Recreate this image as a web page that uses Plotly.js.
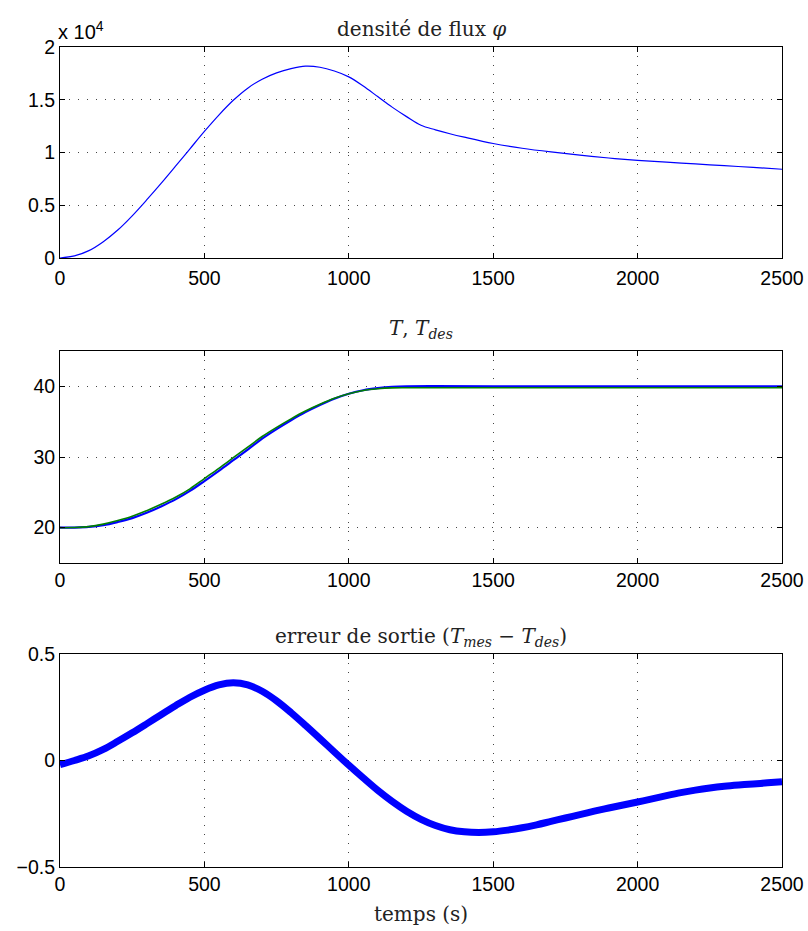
<!DOCTYPE html>
<html>
<head>
<meta charset="utf-8">
<script src="https://cdn.plot.ly/plotly-3.0.1.min.js"></script>
<style>html,body{margin:0;padding:0;background:#fff;}#chart{width:808px;height:931px;}</style>
</head>
<body>
<div id="chart"></div>
<script>
// ---- Data ----
const fluxTime = [0, 50, 100, 150, 200, 250, 300, 350, 400, 450, 500, 550, 600, 650, 700, 750, 800, 850, 900, 950, 1000, 1050, 1100, 1150, 1200, 1250, 1300, 1350, 1400, 1500, 1600, 1700, 1800, 1900, 2000, 2100, 2200, 2300, 2400, 2500];
const fluxValue = [0, 200, 700, 1550, 2650, 4000, 5500, 7070, 8700, 10350, 12000, 13550, 14950, 16100, 16950, 17550, 17950, 18180, 18080, 17720, 17170, 16300, 15300, 14300, 13400, 12580, 12150, 11780, 11450, 10850, 10400, 10050, 9750, 9480, 9260, 9080, 8920, 8750, 8590, 8410];

const tempTime = [0, 50, 100, 150, 200, 250, 300, 350, 400, 450, 500, 550, 600, 650, 700, 750, 800, 850, 900, 950, 1000, 1050, 1100, 1150, 1200, 1300, 1500, 2000, 2500];
const tempMeasured = [20.0, 20.01, 20.1, 20.35, 20.8, 21.35, 22.1, 23.0, 24.0, 25.2, 26.6, 28.05, 29.55, 31.05, 32.6, 33.95, 35.2, 36.35, 37.35, 38.25, 38.95, 39.45, 39.75, 39.93, 40.0, 40.02, 40.0, 40.0, 40.0];
const tempDesired = [20.0, 20.02, 20.15, 20.5, 21.0, 21.6, 22.4, 23.3, 24.3, 25.5, 26.95, 28.4, 29.9, 31.4, 32.9, 34.2, 35.4, 36.5, 37.45, 38.3, 38.95, 39.4, 39.65, 39.78, 39.8, 39.8, 39.8, 39.8, 39.8];

const errTime = [0, 50, 100, 150, 200, 250, 300, 350, 400, 450, 500, 550, 600, 650, 700, 750, 800, 850, 900, 950, 1000, 1050, 1100, 1150, 1200, 1250, 1300, 1350, 1400, 1450, 1500, 1550, 1600, 1650, 1700, 1750, 1800, 1850, 1900, 1950, 2000, 2050, 2100, 2150, 2200, 2250, 2300, 2350, 2400, 2450, 2500];
const errValue = [-0.02, 0.0, 0.022, 0.052, 0.09, 0.13, 0.172, 0.215, 0.257, 0.297, 0.33, 0.355, 0.365, 0.355, 0.325, 0.28, 0.225, 0.165, 0.103, 0.04, -0.022, -0.082, -0.14, -0.192, -0.238, -0.276, -0.305, -0.325, -0.335, -0.338, -0.335, -0.327, -0.316, -0.302, -0.286, -0.27, -0.254, -0.238, -0.223, -0.209, -0.195, -0.18, -0.165, -0.151, -0.139, -0.129, -0.121, -0.115, -0.11, -0.105, -0.1];

const xTickVals = [0, 500, 1000, 1500, 2000, 2500];
const xTickText = ['0', '500', '1000', '1500', '2000', '2500'];
const fluxTickVals = [0, 5000, 10000, 15000, 20000];
const fluxTickText = ['0', '0.5', '1', '1.5', '2'];
const tempTickVals = [20, 30, 40];
const tempTickText = ['20', '30', '40'];
const errTickVals = [-0.5, 0, 0.5];
const errTickText = ['\u22120.5', '0', '0.5'];

const titles = {
  flux: 'densité de flux <i>φ</i>',
  temp: '<i>T</i>, <i>T<sub>des</sub></i>',
  err: 'erreur de sortie (<i>T<sub>mes</sub></i> − <i>T<sub>des</sub></i>)',
  xlab: 'temps (s)',
  exp: 'x 10<sup>4</sup>'
};

// ---- Figure ----
const H = 931;
const py = v => 1 - v / H;
const tickFont = {family: 'Liberation Sans, Arial, Helvetica, sans-serif', size: 19.5, color: '#000'};
const serif = {family: 'DejaVu Serif, serif', size: 20, color: '#222'};

function axisBase(extra) {
  return Object.assign({
    showline: true, linecolor: '#000', linewidth: 1, mirror: 'ticks',
    ticks: 'inside', ticklen: 5, tickcolor: '#000', tickwidth: 1,
    showgrid: true, gridcolor: '#444', gridwidth: 1, griddash: '1px,8px',
    zeroline: false, tickfont: tickFont, fixedrange: true
  }, extra);
}

const traces = [
  {x: fluxTime, y: fluxValue, type: 'scatter', mode: 'lines', line: {color: '#0000ff', width: 1.2, shape: 'spline', smoothing: 1}, xaxis: 'x', yaxis: 'y'},
  {x: tempTime, y: tempMeasured, type: 'scatter', mode: 'lines', line: {color: '#0000ff', width: 2.2, shape: 'spline', smoothing: 1}, xaxis: 'x2', yaxis: 'y2'},
  {x: tempTime, y: tempDesired, type: 'scatter', mode: 'lines', line: {color: '#008000', width: 1.6, shape: 'spline', smoothing: 1}, xaxis: 'x2', yaxis: 'y2'},
  {x: errTime, y: errValue, type: 'scatter', mode: 'lines', line: {color: '#0000ff', width: 7, shape: 'spline', smoothing: 1}, xaxis: 'x3', yaxis: 'y3'}
];

const layout = {
  width: 808, height: 931,
  margin: {l: 60, r: 26, t: 0, b: 0},
  paper_bgcolor: '#fff', plot_bgcolor: '#fff',
  showlegend: false,
  xaxis: axisBase({domain: [0, 1], range: [0, 2500], tickvals: xTickVals, ticktext: xTickText, anchor: 'y', ticklabelstandoff: 3}),
  yaxis: axisBase({domain: [py(258), py(47)], range: [0, 20000], tickvals: fluxTickVals, ticktext: fluxTickText, anchor: 'x'}),
  xaxis2: axisBase({domain: [0, 1], range: [0, 2500], tickvals: xTickVals, ticktext: xTickText, anchor: 'y2'}),
  yaxis2: axisBase({domain: [py(563), py(351)], range: [15, 45], tickvals: tempTickVals, ticktext: tempTickText, anchor: 'x2'}),
  xaxis3: axisBase({domain: [0, 1], range: [0, 2500], tickvals: xTickVals, ticktext: xTickText, anchor: 'y3'}),
  yaxis3: axisBase({domain: [py(867), py(654)], range: [-0.5, 0.5], tickvals: errTickVals, ticktext: errTickText, anchor: 'x3'}),
  annotations: [
    {text: titles.flux, xref: 'paper', yref: 'paper', x: 0.5, y: py(29), xanchor: 'center', yanchor: 'middle', showarrow: false, font: serif},
    {text: titles.temp, xref: 'paper', yref: 'paper', x: 0.5, y: py(329), xanchor: 'center', yanchor: 'middle', showarrow: false, font: serif},
    {text: titles.err, xref: 'paper', yref: 'paper', x: 0.5, y: py(637), xanchor: 'center', yanchor: 'middle', showarrow: false, font: serif},
    {text: titles.xlab, xref: 'paper', yref: 'paper', x: 0.5, y: py(914), xanchor: 'center', yanchor: 'middle', showarrow: false, font: serif},
    {text: titles.exp, xref: 'paper', yref: 'paper', x: 0, y: py(30), xanchor: 'left', yanchor: 'middle', showarrow: false, font: {family: tickFont.family, size: 20, color: '#000'}, xshift: -4}
  ]
};

Plotly.newPlot('chart', traces, layout, {displayModeBar: false, staticPlot: true});
</script>
</body>
</html>
